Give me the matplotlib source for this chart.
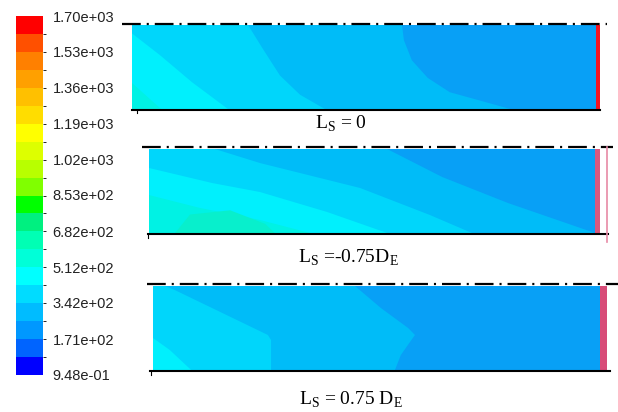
import numpy as np
import matplotlib.pyplot as plt
from matplotlib.colors import ListedColormap, BoundaryNorm
from matplotlib.cm import ScalarMappable

plt.rcParams['font.family'] = ['Liberation Sans', 'DejaVu Sans']
plt.rcParams['lines.scale_dashes'] = False

W, H = 618, 412

# temperature scale of the contour plot
tick_vals = [0.948, 171, 342, 512, 682, 853, 1020, 1190, 1360, 1530, 1700]
tick_labels = ['9.48e-01', '1.71e+02', '3.42e+02', '5.12e+02', '6.82e+02', '8.53e+02',
               '1.02e+03', '1.19e+03', '1.36e+03', '1.53e+03', '1.70e+03']
band_colors = ['#0000ff', '#0064ff', '#0098ff', '#00bcff', '#00dcff', '#00ffff',
               '#00ffd8', '#00ffb4', '#00f080', '#00ff00', '#80ff00', '#b8ff00',
               '#ddff00', '#ffff00', '#ffdd00', '#ffc000', '#ffa000', '#ff8000',
               '#ff5000', '#ff0000']

# shades seen inside the duct
DARK = '#08a0f6'
MEDIUM = '#00bcf8'
LIGHT = '#00d6fb'
CYAN = '#00f0fd'
GCYAN = '#00f2e4'
GREEN2 = '#08efcc'

# band outlines: x along the duct (0..1), y from wall (0) to axis (1)
p1_medium = [(0, 0), (0, 1), (0.577, 1), (0.581, 0.82), (0.598, 0.58), (0.632, 0.37),
             (0.679, 0.20), (0.744, 0.10), (0.808, 0)]
p1_light = [(0, 0), (0, 1), (0.248, 1), (0.278, 0.73), (0.316, 0.40), (0.359, 0.17),
            (0.412, 0)]
p1_cyan = [(0, 0), (0, 0.90), (0.06, 0.64), (0.128, 0.32), (0.205, 0)]
p1_gcyan = [(0, 0), (0, 0.31), (0.028, 0.17), (0.062, 0)]
p1_wall = [(0.991, 0), (0.991, 1), (1, 1), (1, 0)]

p2_dark = [(0.528, 1), (0.65, 0.667), (0.796, 0.357), (0.989, 0), (0.989, 1)]
p2_light = [(0, 0), (0, 1), (0.146, 1), (0.246, 0.833), (0.468, 0.536), (0.623, 0.214),
            (0.716, 0)]
p2_cyan = [(0, 0), (0, 0.774), (0.14, 0.595), (0.246, 0.488), (0.395, 0.25), (0.528, 0)]
p2_gcyan = [(0, 0), (0, 0.452), (0.113, 0.298), (0.246, 0.155), (0.357, 0)]
p2_green = [(0.058, 0), (0.091, 0.22), (0.18, 0.27), (0.257, 0.11), (0.279, 0)]
p2_wall = [(0.989, 0), (0.989, 1), (1, 1), (1, 0)]

p3_dark = [(0.445, 1), (0.502, 0.738), (0.562, 0.5), (0.577, 0.417), (0.546, 0.179),
           (0.533, 0), (0.985, 0), (0.985, 1)]
p3_light = [(0, 0), (0, 1), (0.026, 1), (0.048, 0.952), (0.253, 0.417), (0.26, 0.357),
            (0.26, 0)]
p3_cyan = [(0, 0), (0, 0.381), (0.037, 0.238), (0.084, 0)]
p3_wall = [(0.985, 0), (0.985, 1), (1, 1), (1, 0)]

panel_labels = ['L$_\\mathregular{S}$ = 0',
                'L$_\\mathregular{S}$ =-0.75D$_\\mathregular{E}$',
                'L$_\\mathregular{S}$ = 0.75 D$_\\mathregular{E}$']

fig = plt.figure(figsize=(W / 100, H / 100), dpi=100)
fig.patch.set_facecolor('white')


def px_axes(l, t, r, b):
    return fig.add_axes([l / W, 1 - b / H, (r - l) / W, (b - t) / H])


# colour bar
levels = np.linspace(tick_vals[0], tick_vals[-1], len(band_colors) + 1)
cmap = ListedColormap(band_colors)
norm = BoundaryNorm(levels, cmap.N)
cax = px_axes(16, 16, 43, 375)
cb = fig.colorbar(ScalarMappable(norm=norm, cmap=cmap), cax=cax, ticks=tick_vals)
cb.outline.set_visible(False)
cax.set_yticklabels(tick_labels)
cax.tick_params(length=0, pad=7, labelsize=10.5, labelcolor='#222222')
for t in cax.get_yticklabels():
    t.set_verticalalignment('center_baseline')

# the three ducts
panels = [
    ((132, 25, 600, 109), DARK, [(p1_medium, MEDIUM), (p1_light, LIGHT), (p1_cyan, CYAN),
                                 (p1_gcyan, GCYAN), (p1_wall, '#f51420')]),
    ((149, 149, 600, 233), MEDIUM, [(p2_dark, DARK), (p2_light, LIGHT), (p2_cyan, CYAN),
                                    (p2_gcyan, GCYAN), (p2_green, GREEN2),
                                    (p2_wall, '#d8587e')]),
    ((153, 286, 607, 370), MEDIUM, [(p3_dark, DARK), (p3_light, LIGHT), (p3_cyan, CYAN),
                                    (p3_wall, '#d84c78')]),
]
for rect, bg, regions in panels:
    ax = px_axes(*rect)
    ax.set_xlim(0, 1)
    ax.set_ylim(0, 1)
    ax.axis('off')
    ax.fill([0, 0, 1, 1], [0, 1, 1, 0], color=bg, lw=0)
    for pts, c in regions:
        xs, ys = zip(*pts)
        ax.fill(xs, ys, color=c, lw=0)

# axis lines, walls and captions (pixel coordinates)
deco = fig.add_axes([0, 0, 1, 1])
deco.set_xlim(0, W)
deco.set_ylim(H, 0)
deco.axis('off')
deco.patch.set_visible(False)

dashdot = (0, (13.5, 4.3, 1.5, 4.3))
axis_lines = [(122, 607, 24), (142, 613, 147), (147, 618, 284)]
for x0, x1, y in axis_lines:
    deco.plot([x0, x1], [y, y], color='black', lw=1.6, linestyle=dashdot)

walls = [(132, 600, 110, 137, 113), (148, 608, 234, 148, 238), (150, 610, 371, 151, 375)]
for x0, x1, y, xt, yt in walls:
    deco.plot([x0, x1], [y, y], color='black', lw=1.5)
    deco.plot([xt, xt], [y, yt], color='black', lw=0.8)

deco.plot([607, 607], [147, 242], color='#e88aa6', lw=1.2)

caption_pos = [(341, 129), (348, 263), (351, 405)]
for (x, y), s in zip(caption_pos, panel_labels):
    deco.text(x, y, s, ha='center', va='baseline', fontsize=14,
              fontfamily='Liberation Serif', color='black')

fig.savefig('out.png', dpi=100)
